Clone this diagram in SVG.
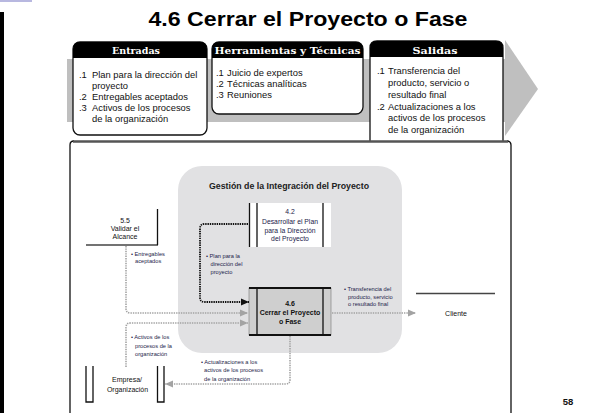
<svg xmlns="http://www.w3.org/2000/svg" width="609" height="413" viewBox="0 0 609 413">
<defs>
<style>
.sans{font-family:"Liberation Sans",Arial,sans-serif}
.hdr{font-family:"DejaVu Serif","Liberation Serif",serif;font-weight:bold;font-size:10px;fill:#fff;text-anchor:middle}
.item{font-family:"Liberation Sans",Arial,sans-serif;font-size:9.4px;fill:#111}
.lbl{font-family:"Liberation Sans",Arial,sans-serif;font-size:5.7px;fill:#1c1c4a}
.box{font-family:"Liberation Sans",Arial,sans-serif;font-size:6.8px;fill:#22224a;text-anchor:middle}
.boxb{font-family:"Liberation Sans",Arial,sans-serif;font-size:7px;font-weight:bold;fill:#111;text-anchor:middle}
.ext{font-family:"Liberation Sans",Arial,sans-serif;font-size:7px;fill:#111;text-anchor:middle}
.gdot{fill:none;stroke:#a3a3a3;stroke-width:1.6;stroke-dasharray:1.4 1}
.bdot{fill:none;stroke:#111;stroke-width:1.8;stroke-dasharray:1.4 0.9}
.vl{stroke:#111;stroke-width:1.3;fill:none}
</style>
<marker id="ag" markerUnits="userSpaceOnUse" markerWidth="9" markerHeight="8" refX="8" refY="4" orient="auto">
<path d="M0,0.5 L8,4 L0,7.5 z" fill="#a3a3a3"/>
</marker>
<marker id="ab" markerUnits="userSpaceOnUse" markerWidth="9" markerHeight="8" refX="8" refY="4" orient="auto">
<path d="M0,0.5 L8,4 L0,7.5 z" fill="#111"/>
</marker>
</defs>
<rect width="609" height="413" fill="#fff"/>
<rect x="0" y="0" width="32" height="2" fill="#b8b8e0"/>
<rect x="0" y="12" width="4" height="401" fill="#000"/>

<g id="title">
<text x="308" y="26" class="sans" font-size="20" font-weight="bold" text-anchor="middle" textLength="319" lengthAdjust="spacingAndGlyphs" fill="#000">4.6 Cerrar el Proyecto o Fase</text>
</g>

<g id="band">
<rect x="67" y="59" width="439" height="63" fill="#bfbfbf"/>
<polygon points="505,40 538,89 505,136" fill="#bfbfbf"/>
</g>

<g id="entradas">
<rect x="73" y="42" width="134" height="93" rx="7" fill="#fff" stroke="#111" stroke-width="1.3"/>
<path d="M73,58 V49 Q73,42 80,42 H200 Q207,42 207,49 V58 Z" fill="#000"/>
<text x="136" y="54" class="hdr" textLength="48" lengthAdjust="spacingAndGlyphs">Entradas</text>
<text class="item"><tspan x="79" y="77.5">.1</tspan><tspan x="92" y="77.5">Plan para la dirección del</tspan><tspan x="92" y="88.5">proyecto</tspan><tspan x="79" y="99.5">.2</tspan><tspan x="92" y="99.5">Entregables aceptados</tspan><tspan x="79" y="110.5">.3</tspan><tspan x="92" y="110.5">Activos de los procesos</tspan><tspan x="92" y="121.5">de la organización</tspan></text>
</g>

<g id="herramientas">
<rect x="212" y="42" width="151" height="72" rx="7" fill="#fff" stroke="#111" stroke-width="1.3"/>
<path d="M212,58 V49 Q212,42 219,42 H356 Q363,42 363,49 V58 Z" fill="#000"/>
<text x="287.5" y="54" class="hdr" textLength="146" lengthAdjust="spacingAndGlyphs">Herramientas y Técnicas</text>
<text class="item" font-size="9.8"><tspan x="216" y="76">.1</tspan><tspan x="227" y="76">Juicio de expertos</tspan><tspan x="216" y="87">.2</tspan><tspan x="227" y="87">Técnicas analíticas</tspan><tspan x="216" y="98">.3</tspan><tspan x="227" y="98">Reuniones</tspan></text>
</g>

<g id="salidas">
<path d="M370,141 V48 Q370,41 377,41 H496 Q503,41 503,48 V141" fill="#fff" stroke="#111" stroke-width="1.3"/>
<path d="M370,57 V48 Q370,41 377,41 H496 Q503,41 503,48 V57 Z" fill="#000"/>
<text x="435" y="53.5" class="hdr" textLength="45" lengthAdjust="spacingAndGlyphs">Salidas</text>
<text class="item"><tspan x="377" y="74">.1</tspan><tspan x="388" y="74">Transferencia del</tspan><tspan x="388" y="86">producto, servicio o</tspan><tspan x="388" y="98">resultado final</tspan><tspan x="377" y="109.5">.2</tspan><tspan x="388" y="109.5">Actualizaciones a los</tspan><tspan x="388" y="121">activos de los procesos</tspan><tspan x="388" y="133">de la organización</tspan></text>
</g>

<g id="panel">
<rect x="70" y="141" width="441" height="272" fill="#fff"/>
<path d="M70,413 V145 Q70,141 74,141" class="vl"/>
<path d="M507,141 Q511,141 511,145 V413" class="vl"/>
<line x1="73" y1="141.5" x2="508" y2="141.5" stroke="#555" stroke-width="2.4"/>
</g>

<g id="integracion">
<rect x="178" y="166" width="224" height="187" rx="24" fill="#e1e1e3"/>
<text x="289" y="188.5" class="sans" font-size="8.8" font-weight="bold" text-anchor="middle" fill="#222" textLength="160" lengthAdjust="spacingAndGlyphs">Gestión de la Integración del Proyecto</text>
</g>

<g id="n42">
<rect x="249" y="203" width="82" height="44" fill="#fff"/>
<line x1="249.5" y1="203" x2="249.5" y2="247" class="vl"/>
<line x1="257" y1="203" x2="257" y2="247" class="vl"/>
<line x1="323" y1="203" x2="323" y2="247" class="vl"/>
<text class="box"><tspan x="290" y="214">4.2</tspan><tspan x="290" y="224">Desarrollar el Plan</tspan><tspan x="290" y="232.5">para la Dirección</tspan><tspan x="290" y="240.5">del Proyecto</tspan></text>
</g>

<g id="n46">
<rect x="249" y="288" width="82" height="47" fill="#cfcfcf" stroke="#777" stroke-width="0.6"/>
<line x1="249" y1="288" x2="331" y2="288" stroke="#111" stroke-width="2"/>
<line x1="249" y1="335" x2="331" y2="335" stroke="#111" stroke-width="2"/>
<line x1="257" y1="288" x2="257" y2="335" class="vl"/>
<line x1="323" y1="288" x2="323" y2="335" class="vl"/>
<text class="boxb"><tspan x="290" y="305.5">4.6</tspan><tspan x="290" y="314.5">Cerrar el Proyecto</tspan><tspan x="290" y="323.5">o Fase</tspan></text>
</g>

<g id="n55">
<line x1="86" y1="245" x2="158" y2="245" stroke="#444" stroke-width="1.4"/>
<line x1="157.5" y1="209" x2="157.5" y2="245" class="vl"/>
<text class="ext" font-size="7.2"><tspan x="125" y="222.5">5.5</tspan><tspan x="125" y="231">Validar el</tspan><tspan x="125" y="239">Alcance</tspan></text>
</g>

<g id="cliente">
<line x1="416" y1="293.5" x2="495" y2="293.5" stroke="#444" stroke-width="1.4"/>
<text x="456" y="315.5" class="ext" font-size="6.6">Cliente</text>
</g>

<g id="empresa">
<path d="M86,366 V402 H93 V366" class="vl"/>
<path d="M157.5,366 V402 H164 V366" class="vl"/>
<text class="ext" font-size="6.8"><tspan x="127" y="382">Empresa/</tspan><tspan x="127.5" y="392">Organización</tspan></text>
</g>

<g id="connectors">
<path d="M248,224 H204.5 Q200,224 200,228.5 V297.5 Q200,302 204.5,302 H249" class="bdot" marker-end="url(#ab)"/>
<path d="M126,246 V308.5 Q126,313 130.5,313 H248" class="gdot" marker-end="url(#ag)"/>
<path d="M126,367 V327.5 Q126,323 130.5,323 H248" class="gdot" marker-end="url(#ag)"/>
<path d="M332,313 H416" class="gdot" marker-end="url(#ag)"/>
<path d="M290,336 V379.5 Q290,384 285.5,384 H165" class="gdot" marker-end="url(#ag)"/>
<text class="lbl"><tspan x="131" y="255.5">• Entregables</tspan><tspan x="135" y="263">aceptados</tspan></text>
<text class="lbl"><tspan x="206" y="258">• Plan para la</tspan><tspan x="210.5" y="265.5">dirección del</tspan><tspan x="210.5" y="273.5">proyecto</tspan></text>
<text class="lbl"><tspan x="131" y="339">• Activos de los</tspan><tspan x="135" y="347.5">procesos de la</tspan><tspan x="135" y="355.5">organización</tspan></text>
<text class="lbl"><tspan x="344" y="290.5">• Transferencia del</tspan><tspan x="348" y="298.5">producto, servicio</tspan><tspan x="348" y="305.5">o resultado final</tspan></text>
<text class="lbl"><tspan x="201" y="364">• Actualizaciones a los</tspan><tspan x="204" y="372">activos de los procesos</tspan><tspan x="204" y="380.5">de la organización</tspan></text>
</g>

<g id="page">
<text x="568" y="405" class="sans" font-size="9.5" font-weight="bold" text-anchor="middle" fill="#111">58</text>
</g>
</svg>
